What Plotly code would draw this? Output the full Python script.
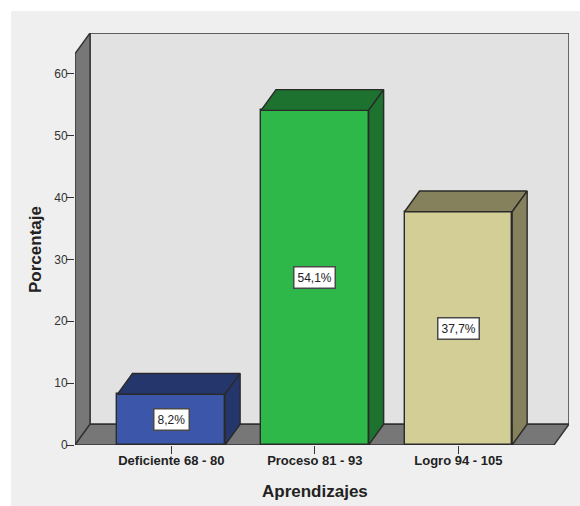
import plotly.graph_objects as go

categories = ["Deficiente 68 - 80", "Proceso 81 - 93", "Logro 94 - 105"]
percentages = [8.2, 54.1, 37.7]
front_colors = ["#3C57A9", "#2FB84A", "#D3CD96"]
shade_colors = ["#25366C", "#1C722E", "#85815D"]
y_ticks = [0, 10, 20, 30, 40, 50, 60]

W, H = 580, 506
LEFT, RIGHT, TOP, BOTTOM = 75, 569, 33, 445
X_RANGE = [-0.671, 2.771]
Y_RANGE = [0, 66.6]
DEPTH_X = 0.1045      # depth of the 3D projection, in axis units
DEPTH_Y = 3.35
BAR_WIDTH = 0.75
FLOOR_RIGHT = X_RANGE[1] - DEPTH_X
EDGE = "#2A2A2A"

positions = list(range(len(categories)))


def poly_path(points):
    return "M" + "L".join(f"{x},{y}" for x, y in points) + "Z"


def wall(points, fill):
    return dict(type="path", path=poly_path(points), xref="x", yref="y", layer="below",
                fillcolor=fill, line=dict(color="#333333", width=1.4))


x0 = X_RANGE[0]
y_top = Y_RANGE[1]
walls = [
    wall([(x0 + DEPTH_X, DEPTH_Y), (X_RANGE[1], DEPTH_Y), (X_RANGE[1], y_top), (x0 + DEPTH_X, y_top)], "#E2E2E2"),
    wall([(x0, 0), (x0 + DEPTH_X, DEPTH_Y), (x0 + DEPTH_X, y_top), (x0, y_top - DEPTH_Y)], "#777777"),
    wall([(x0, 0), (FLOOR_RIGHT, 0), (X_RANGE[1], DEPTH_Y), (x0 + DEPTH_X, DEPTH_Y)], "#777777"),
]

# Light grey panel behind the whole chart
panel = dict(type="rect", xref="paper", yref="paper", layer="below",
             x0=(11 - LEFT) / (RIGHT - LEFT), x1=(W - LEFT) / (RIGHT - LEFT),
             y0=(BOTTOM - H) / (BOTTOM - TOP), y1=(BOTTOM - 11) / (BOTTOM - TOP),
             fillcolor="#EFEFEF", line=dict(width=0))

fig = go.Figure()

# Front faces of the bars
fig.add_trace(go.Bar(
    x=positions, y=percentages, width=BAR_WIDTH,
    marker=dict(color=front_colors, line=dict(color=EDGE, width=1.4)),
    hoverinfo="skip", showlegend=False,
))

# Top and side faces, projected from each bar's value
for pos, value, shade in zip(positions, percentages, shade_colors):
    xl, xr = pos - BAR_WIDTH / 2, pos + BAR_WIDTH / 2
    faces = [
        [(xl, value), (xr, value), (xr + DEPTH_X, value + DEPTH_Y), (xl + DEPTH_X, value + DEPTH_Y)],
        [(xr, 0), (xr + DEPTH_X, DEPTH_Y), (xr + DEPTH_X, value + DEPTH_Y), (xr, value)],
    ]
    for face in faces:
        closed = face + face[:1]
        fig.add_trace(go.Scatter(
            x=[p[0] for p in closed], y=[p[1] for p in closed],
            mode="lines", fill="toself", fillcolor=shade,
            line=dict(color=EDGE, width=1.4),
            hoverinfo="skip", showlegend=False,
        ))

# Boxed percentage labels at the middle of each bar
annotations = [
    dict(x=pos, y=value / 2, xref="x", yref="y", showarrow=False,
         text=f"{value:.1f}".replace(".", ",") + "%",
         font=dict(family="Liberation Sans", size=12, color="#222222"),
         bgcolor="#FFFFFF", bordercolor="#4A4A4A", borderwidth=1.5, borderpad=3)
    for pos, value in zip(positions, percentages)
]
annotations.append(dict(
    x=positions[1], y=(BOTTOM - 491) / (BOTTOM - TOP), xref="x", yref="paper", showarrow=False,
    xanchor="center", yanchor="middle",
    text="<b>Aprendizajes</b>", font=dict(family="Liberation Sans", size=17, color="#222222"),
))
annotations.append(dict(
    x=(35 - LEFT) / (RIGHT - LEFT), y=(BOTTOM - 250) / (BOTTOM - TOP), xref="paper", yref="paper",
    showarrow=False, textangle=-90, xanchor="center", yanchor="middle",
    text="<b>Porcentaje</b>", font=dict(family="Liberation Sans", size=17, color="#222222"),
))

fig.update_layout(
    width=W, height=H, autosize=False,
    margin=dict(l=LEFT, r=W - RIGHT, t=TOP, b=H - BOTTOM, pad=0),
    paper_bgcolor="#FFFFFF", plot_bgcolor="rgba(0,0,0,0)",
    shapes=[panel] + walls,
    annotations=annotations,
    bargap=0,
    xaxis=dict(
        range=X_RANGE, tickmode="array", tickvals=positions, ticktext=[f"<b>{c}</b>" for c in categories],
        ticks="outside", ticklen=8, tickwidth=1.2, tickcolor="#333333", showgrid=False, zeroline=False,
        showline=False, ticklabelstandoff=-5,
        tickfont=dict(family="Liberation Sans", size=13, color="#222222"),
    ),
    yaxis=dict(
        range=Y_RANGE, tickmode="array", tickvals=y_ticks, ticklabelstandoff=-4,
        ticks="outside", ticklen=8, tickwidth=1.2, tickcolor="#333333", showgrid=False, zeroline=False,
        showline=False, tickfont=dict(family="Liberation Sans", size=12, color="#333333"),
    ),
)

fig.write_html("out.html", config=dict(displayModeBar=False))
